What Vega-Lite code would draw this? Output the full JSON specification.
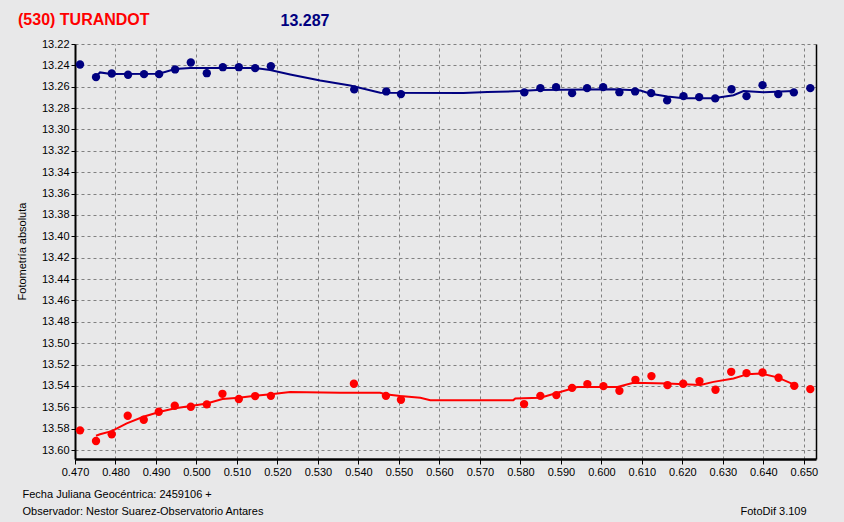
{
  "$schema": "https://vega.github.io/schema/vega-lite/v6.json",
  "width": 741,
  "height": 415,
  "autosize": {"type": "none"},
  "padding": {"left": 75, "top": 44, "right": 28, "bottom": 63},
  "background": "#e8e8e9",
  "config": {
    "view": {"stroke": null},
    "font": "Liberation Sans",
    "axis": {"labelFont": "Liberation Sans", "titleFont": "Liberation Sans"}
  },
  "title": {
    "text": "(530) TURANDOT",
    "anchor": "start",
    "frame": "group",
    "dx": -57,
    "offset": -29,
    "color": "#ff0000",
    "fontSize": 16,
    "font": "Liberation Sans",
    "fontWeight": "bold",
    "baseline": "alphabetic"
  },
  "datasets": {
    "bluePts": [
      {"x": 0.47124, "y": 13.2392}, {"x": 0.47519, "y": 13.2510}, {"x": 0.47907, "y": 13.2476},
      {"x": 0.48310, "y": 13.2488}, {"x": 0.48705, "y": 13.2482}, {"x": 0.49076, "y": 13.2482},
      {"x": 0.49472, "y": 13.2438}, {"x": 0.49860, "y": 13.2373}, {"x": 0.50255, "y": 13.2473},
      {"x": 0.50651, "y": 13.2417}, {"x": 0.51046, "y": 13.2417}, {"x": 0.51449, "y": 13.2426},
      {"x": 0.51837, "y": 13.2408}, {"x": 0.53896, "y": 13.2625}, {"x": 0.54687, "y": 13.2644},
      {"x": 0.55050, "y": 13.2669}, {"x": 0.58097, "y": 13.2653}, {"x": 0.58493, "y": 13.2613},
      {"x": 0.58881, "y": 13.2604}, {"x": 0.59276, "y": 13.2660}, {"x": 0.59647, "y": 13.2613},
      {"x": 0.60043, "y": 13.2604}, {"x": 0.60445, "y": 13.2651}, {"x": 0.60833, "y": 13.2644},
      {"x": 0.61229, "y": 13.2660}, {"x": 0.61624, "y": 13.2728}, {"x": 0.62027, "y": 13.2688},
      {"x": 0.62415, "y": 13.2697}, {"x": 0.62811, "y": 13.2709}, {"x": 0.63213, "y": 13.2623},
      {"x": 0.63584, "y": 13.2688}, {"x": 0.63980, "y": 13.2585}, {"x": 0.64368, "y": 13.2669},
      {"x": 0.64753, "y": 13.2653}, {"x": 0.65159, "y": 13.2613}
    ],
    "blueFit": [
      {"x": 0.47519, "y": 13.2504}, {"x": 0.47618, "y": 13.2466}, {"x": 0.47890, "y": 13.2480},
      {"x": 0.49076, "y": 13.2479}, {"x": 0.49472, "y": 13.2434}, {"x": 0.49842, "y": 13.2424},
      {"x": 0.51449, "y": 13.2424}, {"x": 0.51820, "y": 13.2443}, {"x": 0.52314, "y": 13.2485},
      {"x": 0.53055, "y": 13.2542}, {"x": 0.53797, "y": 13.2588}, {"x": 0.54538, "y": 13.2656},
      {"x": 0.56590, "y": 13.2658}, {"x": 0.57183, "y": 13.2649}, {"x": 0.57999, "y": 13.2641},
      {"x": 0.58419, "y": 13.2630}, {"x": 0.60297, "y": 13.2623}, {"x": 0.60964, "y": 13.2635},
      {"x": 0.61212, "y": 13.2666}, {"x": 0.61632, "y": 13.2691}, {"x": 0.62027, "y": 13.2707},
      {"x": 0.62769, "y": 13.2707}, {"x": 0.63263, "y": 13.2679}, {"x": 0.63510, "y": 13.2641},
      {"x": 0.64004, "y": 13.2651}, {"x": 0.64746, "y": 13.2641}
    ],
    "redPts": [
      {"x": 0.47124, "y": 13.5816}, {"x": 0.47519, "y": 13.5916}, {"x": 0.47907, "y": 13.5853},
      {"x": 0.48302, "y": 13.5679}, {"x": 0.48698, "y": 13.5717}, {"x": 0.49069, "y": 13.5642},
      {"x": 0.49464, "y": 13.5586}, {"x": 0.49860, "y": 13.5595}, {"x": 0.50255, "y": 13.5573},
      {"x": 0.50641, "y": 13.5474}, {"x": 0.51046, "y": 13.5523}, {"x": 0.51449, "y": 13.5495},
      {"x": 0.51837, "y": 13.5493}, {"x": 0.53888, "y": 13.5380}, {"x": 0.54679, "y": 13.5493},
      {"x": 0.55050, "y": 13.5530}, {"x": 0.58090, "y": 13.5570}, {"x": 0.58493, "y": 13.5493},
      {"x": 0.58888, "y": 13.5486}, {"x": 0.59276, "y": 13.5418}, {"x": 0.59654, "y": 13.5383},
      {"x": 0.60050, "y": 13.5402}, {"x": 0.60445, "y": 13.5446}, {"x": 0.60841, "y": 13.5343},
      {"x": 0.61236, "y": 13.5308}, {"x": 0.61632, "y": 13.5392}, {"x": 0.62020, "y": 13.5380},
      {"x": 0.62422, "y": 13.5355}, {"x": 0.62818, "y": 13.5436}, {"x": 0.63206, "y": 13.5268},
      {"x": 0.63584, "y": 13.5280}, {"x": 0.63980, "y": 13.5274}, {"x": 0.64375, "y": 13.5324},
      {"x": 0.64763, "y": 13.5399}, {"x": 0.65159, "y": 13.5430}
    ],
    "redFit": [
      {"x": 0.47519, "y": 13.5866}, {"x": 0.47618, "y": 13.5853}, {"x": 0.47907, "y": 13.5823},
      {"x": 0.48278, "y": 13.5751}, {"x": 0.48688, "y": 13.5689}, {"x": 0.49101, "y": 13.5642},
      {"x": 0.49472, "y": 13.5610}, {"x": 0.49860, "y": 13.5589}, {"x": 0.50255, "y": 13.5564},
      {"x": 0.50641, "y": 13.5523}, {"x": 0.51046, "y": 13.5511}, {"x": 0.51449, "y": 13.5493},
      {"x": 0.51837, "y": 13.5479}, {"x": 0.52314, "y": 13.5458}, {"x": 0.53550, "y": 13.5463},
      {"x": 0.54538, "y": 13.5464}, {"x": 0.54662, "y": 13.5477}, {"x": 0.55033, "y": 13.5495},
      {"x": 0.55527, "y": 13.5511}, {"x": 0.55774, "y": 13.5533}, {"x": 0.57826, "y": 13.5533},
      {"x": 0.57875, "y": 13.5517}, {"x": 0.58493, "y": 13.5511}, {"x": 0.59407, "y": 13.5411},
      {"x": 0.60396, "y": 13.5411}, {"x": 0.60791, "y": 13.5371}, {"x": 0.61632, "y": 13.5377},
      {"x": 0.62447, "y": 13.5392}, {"x": 0.62769, "y": 13.5362}, {"x": 0.63263, "y": 13.5330},
      {"x": 0.63609, "y": 13.5290}, {"x": 0.63930, "y": 13.5283}, {"x": 0.64350, "y": 13.5320},
      {"x": 0.64746, "y": 13.5386}
    ]
  },
  "resolve": {"axis": {"x": "independent", "y": "independent"}},
  "layer": [
    {
      "data": {"name": "bluePts"},
      "mark": {"type": "point", "filled": true, "shape": "circle", "size": 70, "opacity": 1, "color": "#000080"},
      "encoding": {
        "x": {
          "field": "x", "type": "quantitative",
          "scale": {"domain": [0.47, 0.653], "nice": false, "zero": false},
          "axis": {
            "orient": "bottom",
            "values": [0.47, 0.48, 0.49, 0.5, 0.51, 0.52, 0.53, 0.54, 0.55, 0.56, 0.57, 0.58, 0.59, 0.6, 0.61, 0.62, 0.63, 0.64, 0.65],
            "format": ".3f",
            "grid": true, "gridColor": "#808080", "gridDash": [3, 3], "gridWidth": 1, "gridOpacity": 1,
            "domainColor": "#000000", "domainWidth": 2.5,
            "tickColor": "#000000", "tickSize": 5, "tickWidth": 1,
            "labelFontSize": 11, "labelColor": "#000000", "labelPadding": 2, "labelFlush": false,
            "title": ["Fecha Juliana Geocéntrica: 2459106 +", "Observador: Nestor Suarez-Observatorio Antares"],
            "titleFontWeight": "normal", "titleFontSize": 11, "titleColor": "#000000",
            "titleAlign": "left", "titleAnchor": "start", "titleX": -53, "titleY": 38,
            "titleBaseline": "alphabetic", "titleLineHeight": 17
          }
        },
        "y": {
          "field": "y", "type": "quantitative",
          "scale": {"domain": [13.22, 13.6084], "reverse": true, "nice": false, "zero": false},
          "axis": {
            "orient": "left",
            "values": [13.22, 13.24, 13.26, 13.28, 13.3, 13.32, 13.34, 13.36, 13.38, 13.4, 13.42, 13.44, 13.46, 13.48, 13.5, 13.52, 13.54, 13.56, 13.58, 13.6],
            "format": ".2f",
            "grid": true, "gridColor": "#808080", "gridDash": [3, 3], "gridWidth": 1, "gridOpacity": 1,
            "domainColor": "#000000", "domainWidth": 2,
            "tickColor": "#000000", "tickSize": 4, "tickWidth": 1,
            "labelFontSize": 11, "labelColor": "#000000", "labelPadding": 2, "labelFlush": false,
            "title": "Fotometría absoluta",
            "titleFontWeight": "normal", "titleFontSize": 11, "titleColor": "#000000",
            "titleAngle": -90, "titleAlign": "center", "titleBaseline": "middle",
            "titleX": -53, "titleY": 207
          }
        }
      }
    },
    {
      "data": {"name": "blueFit"},
      "mark": {"type": "line", "color": "#000080", "strokeWidth": 2},
      "encoding": {
        "x": {
          "field": "x", "type": "quantitative",
          "scale": {"domain": [0.47, 0.653], "nice": false, "zero": false},
          "axis": {
            "orient": "top", "labels": false, "ticks": false, "domain": false, "grid": false,
            "title": "13.287", "titleColor": "#000080", "titleFontSize": 16, "titleFontWeight": "bold",
            "titleX": 205, "titleY": -19, "titleAlign": "left", "titleBaseline": "alphabetic"
          }
        },
        "y": {
          "field": "y", "type": "quantitative",
          "scale": {"domain": [13.22, 13.6084], "reverse": true, "nice": false, "zero": false},
          "axis": {
            "orient": "right", "labels": false, "ticks": false, "grid": false,
            "domain": true, "domainColor": "#000000", "domainWidth": 1.5,
            "title": "FotoDif 3.109", "titleAngle": 0, "titleX": -76, "titleY": 470,
            "titleAlign": "left", "titleBaseline": "alphabetic",
            "titleFontWeight": "normal", "titleFontSize": 11, "titleColor": "#000000"
          }
        }
      }
    },
    {
      "data": {"name": "redPts"},
      "mark": {"type": "point", "filled": true, "shape": "circle", "size": 70, "opacity": 1, "color": "#ff0000"},
      "encoding": {
        "x": {"field": "x", "type": "quantitative", "scale": {"domain": [0.47, 0.653], "nice": false, "zero": false}, "axis": null},
        "y": {"field": "y", "type": "quantitative", "scale": {"domain": [13.22, 13.6084], "reverse": true, "nice": false, "zero": false}, "axis": null}
      }
    },
    {
      "data": {"name": "redFit"},
      "mark": {"type": "line", "color": "#ff0000", "strokeWidth": 2},
      "encoding": {
        "x": {"field": "x", "type": "quantitative", "scale": {"domain": [0.47, 0.653], "nice": false, "zero": false}, "axis": null},
        "y": {"field": "y", "type": "quantitative", "scale": {"domain": [13.22, 13.6084], "reverse": true, "nice": false, "zero": false}, "axis": null}
      }
    }
  ]
}
